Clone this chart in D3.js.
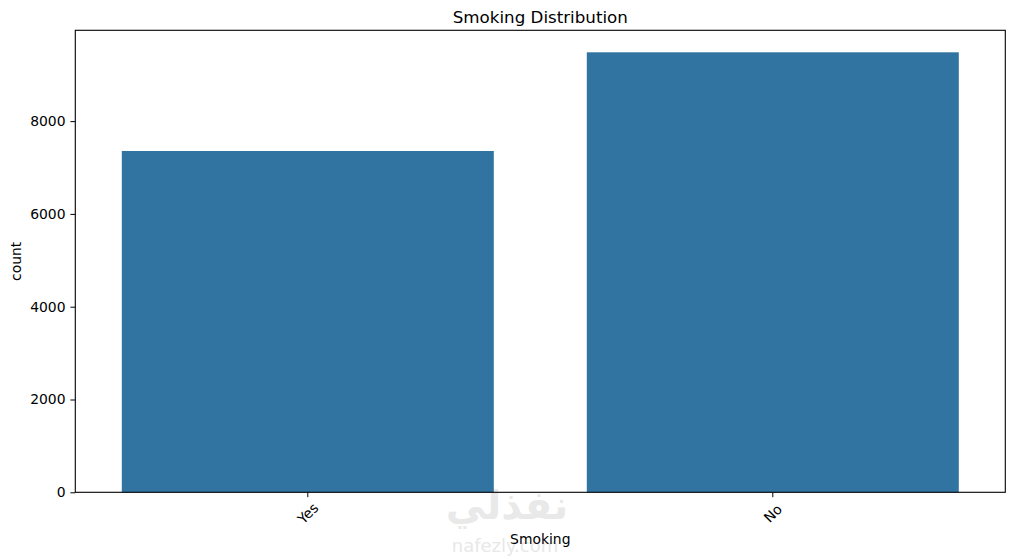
<!DOCTYPE html>
<html>
<head>
<meta charset="utf-8">
<script src="https://cdn.jsdelivr.net/npm/d3@7"></script>
<style>
  html, body { margin: 0; padding: 0; background: #fff; }
  svg { display: block; font-family: "DejaVu Sans", sans-serif; }
</style>
</head>
<body>
<svg id="chart" width="1014" height="557"></svg>
<script>
const categories = ["Yes", "No"];
const counts = [7356, 9483];
const yTicks = [0, 2000, 4000, 6000, 8000];
const title = "Smoking Distribution";
const xLabel = "Smoking";
const yLabel = "count";

const W = 1014, H = 557;
const margin = { left: 75.3, right: W - 1005.3, top: 30.3, bottom: H - 492.3 };
const svg = d3.select("#chart");
const fs = 13.9;

const x = d3.scaleBand().domain(categories)
  .range([margin.left, W - margin.right]).paddingInner(0.2).paddingOuter(0.1);
const yMax = d3.max(counts) * 1.05;
const y = d3.scaleLinear().domain([0, yMax]).range([H - margin.bottom, margin.top]);

// watermark (faint)
svg.append("text").attr("x", 507).attr("y", 519)
  .attr("text-anchor", "middle").attr("font-size", 40).attr("font-weight", "bold")
  .attr("fill", "#e9e9e9").attr("font-family", "DejaVu Sans")
  .text("نفذلي");
svg.append("text").attr("x", 505).attr("y", 552)
  .attr("text-anchor", "middle").attr("font-size", 18)
  .attr("fill", "#e8e8e8").text("nafezly.com");

// bars
svg.append("g").selectAll("rect").data(categories).join("rect")
  .attr("x", d => x(d))
  .attr("width", x.bandwidth())
  .attr("y", (d, i) => y(counts[i]))
  .attr("height", (d, i) => y(0) - y(counts[i]))
  .attr("fill", "#3274a1");

// y axis
const yAxis = svg.append("g").attr("transform", `translate(${margin.left},0)`)
  .call(d3.axisLeft(y).tickValues(yTicks).tickSize(4.9).tickPadding(4.9).tickFormat(d3.format("d")));
yAxis.select(".domain").remove();
yAxis.selectAll("text").attr("font-size", fs).attr("fill", "#000").attr("font-family", "DejaVu Sans");
yAxis.selectAll("line").attr("stroke", "#000").attr("stroke-width", 1);

// x axis
const xAxis = svg.append("g").attr("transform", `translate(0,${H - margin.bottom})`)
  .call(d3.axisBottom(x).tickSize(4.9).tickFormat(""));
xAxis.select(".domain").remove();
xAxis.selectAll("line").attr("stroke", "#000").attr("stroke-width", 1);
svg.append("g").selectAll("text").data(categories).join("text")
  .attr("transform", d => `translate(${x(d) + x.bandwidth() / 2},${H - margin.bottom + 21}) rotate(-45)`)
  .attr("text-anchor", "middle").attr("dominant-baseline", "central")
  .attr("font-size", fs).attr("fill", "#000").text(d => d);

// frame
svg.append("rect").attr("x", margin.left).attr("y", margin.top)
  .attr("width", W - margin.left - margin.right).attr("height", H - margin.top - margin.bottom)
  .attr("fill", "none").attr("stroke", "#000").attr("stroke-width", 1.1);

// labels
svg.append("text").attr("x", (margin.left + W - margin.right) / 2).attr("y", 23)
  .attr("text-anchor", "middle").attr("font-size", 16.7).attr("fill", "#000").text(title);
svg.append("text").attr("x", (margin.left + W - margin.right) / 2).attr("y", 544)
  .attr("text-anchor", "middle").attr("font-size", fs).attr("fill", "#000").text(xLabel);
svg.append("text").attr("transform", `translate(21,${(margin.top + H - margin.bottom) / 2}) rotate(-90)`)
  .attr("text-anchor", "middle").attr("font-size", fs).attr("fill", "#000").text(yLabel);
</script>
</body>
</html>
